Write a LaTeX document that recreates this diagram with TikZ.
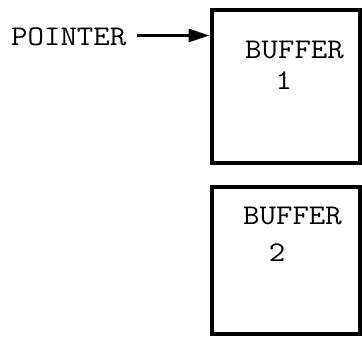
\documentclass[tikz,border=0pt]{standalone}
\usetikzlibrary{arrows.meta}

\begin{document}
\begin{tikzpicture}[x=1pt,y=1pt,
  bufbox/.style={draw,line width=4pt,minimum width=148pt,minimum height=153pt,inner sep=0pt},
  tag/.style={font=\ttfamily\fontsize{28.5}{31}\selectfont,inner sep=0pt,align=left,xscale=1.12,transform shape}]
\useasboundingbox (0,0) rectangle (362,-340);
\node[bufbox] (buf1) at (285.5,-86.5) {};
\node[bufbox,minimum height=147pt] (buf2) at (285.5,-260.5) {};
\node[tag,anchor=north west] (t1) at (245,-41) {BUFFER\\[0pt]\hspace*{0.95em}1};
\node[tag,anchor=north west] (t2) at (243,-207) {BUFFER\\[6pt]\hspace*{0.8em}2};
\node[tag,anchor=west] (ptr) at (11,-37) {POINTER};
\draw[line width=3pt,-{Triangle[length=21pt,width=13pt]}] ([xshift=10pt,yshift=1.5pt]ptr.east) -- ([yshift=1.5pt]ptr.east -| buf1.west);
\end{tikzpicture}
\end{document}
